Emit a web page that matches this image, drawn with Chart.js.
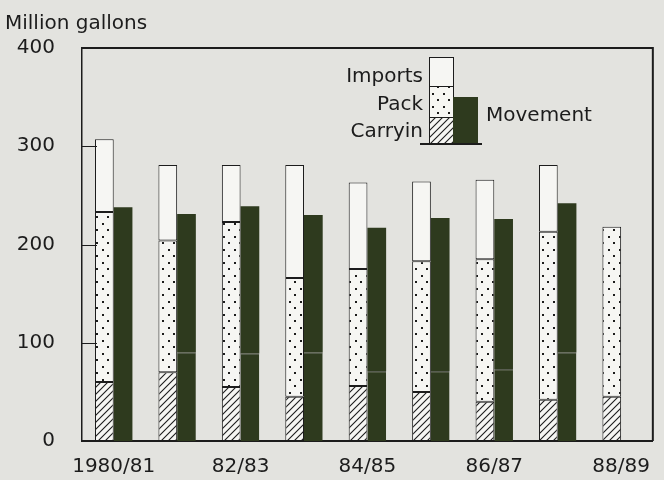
<!DOCTYPE html>
<html>
<head>
<meta charset="utf-8">
<script src="https://cdn.jsdelivr.net/npm/chart.js@4"></script>
<style>
  html, body { margin: 0; padding: 0; background: #e3e3df; }
  #wrap { width: 664px; height: 480px; }
</style>
</head>
<body>
<div id="wrap"><canvas id="chart"></canvas></div>
<script>
// Supply (carry-in + pack + imports) vs. movement, million gallons
const seasons = ["1980/81", "81/82", "82/83", "83/84", "84/85", "85/86", "86/87", "87/88", "88/89"]
const carryin = [60, 70, 55, 45, 56, 50, 40, 42, 45]
const pack    = [173, 134, 168, 121, 119, 133, 145, 171, 173]
const imports = [74, 77, 58, 115, 88, 81, 81, 68, null]
const movement      = [238, 231, 239, 230, 217, 227, 226, 242, null]
const movementSplit = [null, 90, 89, 90, 71, 71, 73, 90, null]  // lower part of movement bar
const yTicks = [0, 100, 200, 300, 400]

const FONT = "'DejaVu Sans', sans-serif"
const INK = "#1c1c1c"
const BG = "#e3e3df"
const PAPER = "#f6f6f3"
const GREEN = "#2e3a1e"

function makeTile(w, h, draw) {
  const c = document.createElement("canvas")
  c.width = w; c.height = h
  const g = c.getContext("2d")
  g.fillStyle = PAPER
  g.fillRect(0, 0, w, h)
  draw(g)
  return document.createElement("canvas").getContext("2d").createPattern(c, "repeat")
}

const dots = makeTile(11, 13, g => {
  g.fillStyle = INK
  g.fillRect(3, 2, 2, 2)
  g.fillRect(8, 8, 2, 2)
})

const hatch = makeTile(7, 7, g => {
  g.strokeStyle = INK
  g.lineWidth = 1.1
  g.beginPath()
  g.moveTo(-1, 8); g.lineTo(8, -1)
  g.moveTo(-1, 1); g.lineTo(1, -1)
  g.moveTo(6, 8); g.lineTo(8, 6)
  g.stroke()
})

const movementLower = movementSplit
const movementUpper = movement.map((m, i) => m == null ? null : m - (movementSplit[i] || 0))

const frame = {
  id: "frame",
  beforeDraw(chart) {
    const ctx = chart.ctx
    ctx.save()
    ctx.fillStyle = BG
    ctx.fillRect(0, 0, chart.width, chart.height)
    ctx.restore()
  },
  afterDraw(chart) {
    const { ctx, chartArea: a, scales: { y } } = chart
    ctx.save()
    ctx.strokeStyle = INK
    ctx.lineWidth = 2
    ctx.beginPath()
    ctx.moveTo(a.left, a.top); ctx.lineTo(a.right, a.top); ctx.lineTo(a.right, a.bottom)
    ctx.stroke()
    // short inward ticks on the left axis
    ctx.lineWidth = 1
    ;[100, 200, 300].forEach(v => {
      const py = Math.round(y.getPixelForValue(v)) + 0.5
      ctx.beginPath(); ctx.moveTo(a.left, py); ctx.lineTo(a.left + 15, py); ctx.stroke()
    })

    ctx.fillStyle = INK
    ctx.font = "20px " + FONT
    ctx.textAlign = "left"
    ctx.textBaseline = "alphabetic"
    ctx.fillText("Million gallons", 5, 29)

    // legend
    const bx = 429, bw = 24
    ctx.lineWidth = 1
    ctx.fillStyle = PAPER; ctx.fillRect(bx, 57, bw, 29); ctx.strokeRect(bx + 0.5, 57.5, bw, 29)
    ctx.fillStyle = dots;  ctx.fillRect(bx, 86, bw, 31);  ctx.strokeRect(bx + 0.5, 86.5, bw, 31)
    ctx.fillStyle = hatch; ctx.fillRect(bx, 117, bw, 26); ctx.strokeRect(bx + 0.5, 117.5, bw, 26)
    ctx.fillStyle = GREEN; ctx.fillRect(453, 97, 25, 46)
    ctx.lineWidth = 2
    ctx.beginPath(); ctx.moveTo(420, 144); ctx.lineTo(482, 144); ctx.stroke()

    ctx.fillStyle = INK
    ctx.textAlign = "right"
    ctx.fillText("Imports", 423, 82)
    ctx.fillText("Pack", 423, 110)
    ctx.fillText("Carryin", 423, 137)
    ctx.textAlign = "left"
    ctx.fillText("Movement", 486, 121)
    ctx.restore()
  }
}

const bar = { borderColor: INK, borderWidth: 1, borderSkipped: false, stack: "supply" }

new Chart(document.getElementById("chart"), {
  type: "bar",
  data: {
    labels: seasons,
    datasets: [
      { ...bar, label: "Carryin", data: carryin, backgroundColor: hatch },
      { ...bar, label: "Pack", data: pack, backgroundColor: dots },
      { ...bar, label: "Imports", data: imports, backgroundColor: PAPER },
      { label: "Movement", data: movementLower, stack: "move", backgroundColor: GREEN,
        borderColor: "#11170a", borderWidth: { top: 1, left: 0, right: 0, bottom: 0 }, borderSkipped: false },
      { label: "Movement ", data: movementUpper, stack: "move", backgroundColor: GREEN, borderWidth: 0 }
    ]
  },
  options: {
    responsive: true,
    maintainAspectRatio: false,
    animation: false,
    categoryPercentage: 0.59,
    barPercentage: 1,
    layout: { padding: { top: 48, right: 1, left: 0, bottom: 0 } },
    plugins: { legend: { display: false }, tooltip: { enabled: false }, title: { display: false } },
    scales: {
      x: {
        stacked: true,
        grid: { display: false, drawTicks: false },
        border: { display: true, color: INK, width: 2 },
        ticks: {
          autoSkip: false, maxRotation: 0, padding: 14, color: INK,
          font: { family: FONT, size: 20 },
          callback: (v, i) => i % 2 === 0 ? seasons[i] : ""
        },
        afterFit: s => { s.height = 36 }
      },
      y: {
        stacked: true,
        min: 0, max: 400,
        afterBuildTicks: s => { s.ticks = yTicks.map(v => ({ value: v })) },
        grid: { display: false, drawTicks: false },
        border: { display: true, color: INK, width: 1.5 },
        ticks: { padding: 27, color: INK, font: { family: FONT, size: 20 } },
        afterFit: s => { s.width = 82 }
      }
    }
  },
  plugins: [frame]
})
</script>
</body>
</html>
